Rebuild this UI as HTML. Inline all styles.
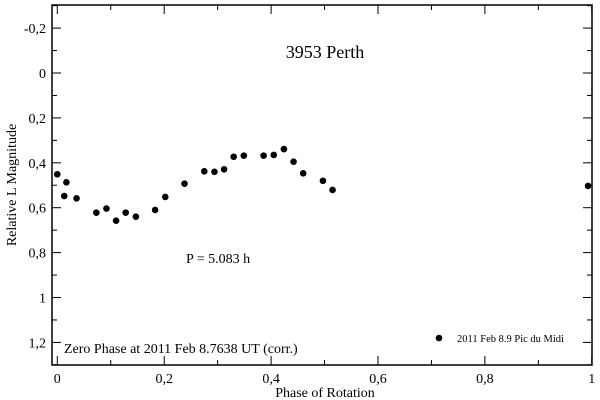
<!DOCTYPE html>
<html><head><meta charset="utf-8"><style>
body{margin:0;background:#fff;}
svg{display:block;font-family:"Liberation Serif",serif;}
</style></head><body>
<svg id="c" width="600" height="400" viewBox="0 0 600 400">
<rect x="0" y="0" width="600" height="400" fill="#fff"/>
<g id="ticks"></g>
<g id="pts"></g>
<rect x="52" y="5" width="540" height="360" fill="none" stroke="#000" stroke-width="1.5"/>
<text x="325" y="58" font-size="18" text-anchor="middle">3953 Perth</text>
<text x="186" y="263" font-size="14">P = 5.083 h</text>
<text x="64" y="353" font-size="14">Zero Phase at 2011 Feb 8.7638 UT (corr.)</text>
<circle cx="439" cy="338" r="3.3" fill="#000"/>
<text x="457" y="342" font-size="10.5">2011 Feb 8.9 Pic du Midi</text>
<text x="325" y="397" font-size="14" text-anchor="middle">Phase of Rotation</text>
<text transform="translate(16,185) rotate(-90)" font-size="14" text-anchor="middle">Relative L Magnitude</text>
</svg>
<script>
const phases=[0,0.017,0.013,0.036,0.073,0.092,0.110,0.128,0.147,0.183,0.202,0.238,0.275,0.294,0.312,0.330,0.349,0.386,0.405,0.424,0.442,0.460,0.497,0.515,0.993];
const mags=[0.451,0.487,0.548,0.558,0.622,0.604,0.658,0.622,0.640,0.610,0.552,0.493,0.438,0.440,0.429,0.373,0.368,0.368,0.365,0.339,0.395,0.447,0.480,0.521,0.503];
const xTickVals=[0,0.2,0.4,0.6,0.8,1];
const xTickLabels=["0","0,2","0,4","0,6","0,8","1"];
const yTickVals=[-0.2,0,0.2,0.4,0.6,0.8,1,1.2];
const yTickLabels=["-0,2","0","0,2","0,4","0,6","0,8","1","1,2"];
const NS="http://www.w3.org/2000/svg";
function X(v){return 57.3+v*534.5;}
function Y(v){return 73+v*224.5;}
const tg=document.getElementById('ticks');
function line(x1,y1,x2,y2,name){const l=document.createElementNS(NS,'line');l.setAttribute('x1',x1);l.setAttribute('y1',y1);l.setAttribute('x2',x2);l.setAttribute('y2',y2);l.setAttribute('stroke','#000');l.setAttribute('stroke-width','1');


tg.appendChild(l);}
function text(x,y,s,anchor,name){const t=document.createElementNS(NS,'text');t.setAttribute('x',x);t.setAttribute('y',y);t.setAttribute('font-size','14');t.setAttribute('text-anchor',anchor);t.textContent=s;


tg.appendChild(t);}
for(let i=-3;i<=13;i++){const v=i/10;const y=Y(v);if(y<5||y>365)continue;const maj=Math.abs(i%2)===0;const L=maj?9:5;
line(52,y,52+L,y,'y-tick');line(592,y,592-L,y,'y-tick-right');}
for(let i=0;i<=10;i++){const v=i/10;const x=X(v);const maj=i%2===0;const L=maj?9:5;
line(x,365,x,365-L,'x-tick');line(x,5,x,5+L,'x-tick-top');}
yTickVals.forEach((v,i)=>text(46,Y(v)+5,yTickLabels[i],'end','y-tick-label'));
xTickVals.forEach((v,i)=>text(X(v),383,xTickLabels[i],'middle','x-tick-label'));
const pg=document.getElementById('pts');
phases.forEach((p,i)=>{const c=document.createElementNS(NS,'circle');c.setAttribute('cx',X(p));c.setAttribute('cy',Y(mags[i]));c.setAttribute('r','3.3');c.setAttribute('fill','#000');


pg.appendChild(c);});
</script>
</body></html>
